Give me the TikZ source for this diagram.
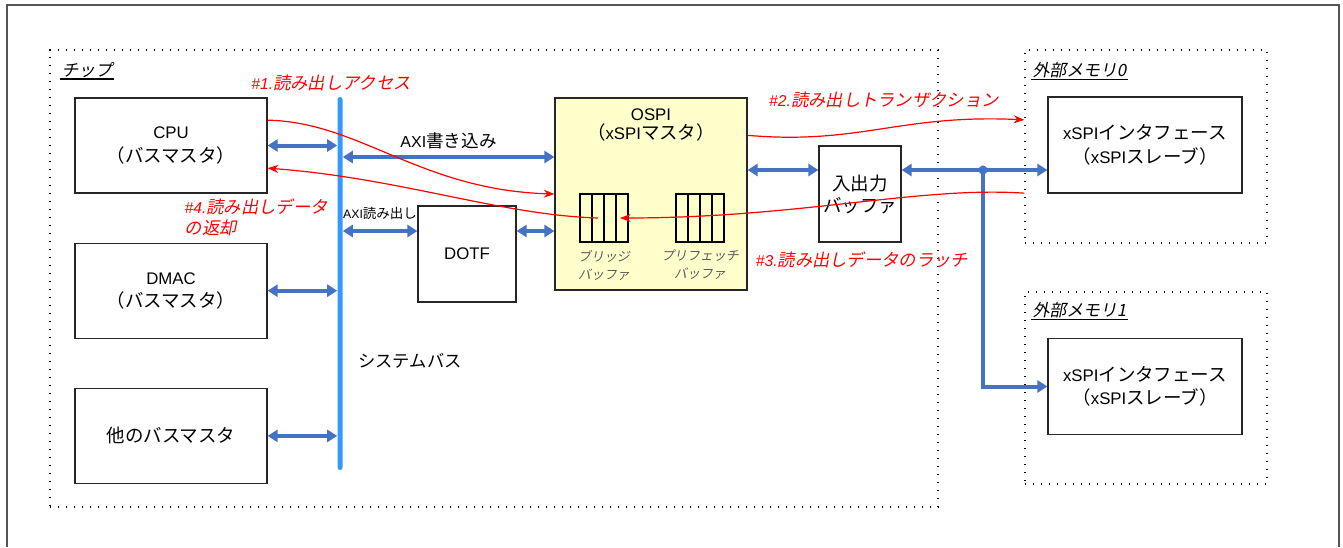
\documentclass[tikz,border=0pt]{standalone}
\usepackage{fontspec}
\setmainfont{Liberation Sans}
\newfontfamily\jp[Scale=1.1]{Noto Sans CJK JP}
\newfontfamily\jpsl[Scale=1.1,FakeSlant=0.2]{Noto Sans CJK JP}
\newcommand\jpitext[1]{{\upshape\jpsl #1}}
\usepackage{tikz}
\usetikzlibrary{arrows.meta, positioning}
\definecolor{busblue}{RGB}{51,153,255}
\definecolor{linkblue}{RGB}{68,114,196}
\definecolor{ospiyellow}{RGB}{255,255,204}
\definecolor{framegray}{RGB}{85,85,85}
\definecolor{bufgray}{RGB}{90,90,90}
\tikzstyle{block} = [rectangle, draw=black!85, line width=0.9pt, fill=white, align=center, inner sep=0pt, font=\fontsize{12.6}{17.5}\selectfont]
\tikzstyle{area} = [rectangle, draw=black, line width=1pt, dash pattern=on 1pt off 5pt, inner sep=0pt]
\tikzstyle{arealabel} = [anchor=west, inner sep=1pt, font=\fontsize{11.5}{13}\selectfont\itshape]
\tikzstyle{biarrow} = [draw=linkblue, line width=3pt, {Triangle[length=7.5pt,width=9pt]}-{Triangle[length=7.5pt,width=9pt]}]
\tikzstyle{uniarrow} = [draw=linkblue, line width=3pt, -{Triangle[length=7.5pt,width=9pt]}]
\tikzstyle{flow} = [draw=red, line width=0.9pt, -{Stealth[length=8pt,width=6pt]}]
\tikzstyle{flowlabel} = [text=red, align=left, font=\fontsize{11.8}{15.5}\selectfont\itshape]
\tikzstyle{buffer} = [rectangle, draw=black, line width=1pt, outer sep=0pt, minimum width=36pt, minimum height=36pt, inner sep=0pt]
\tikzstyle{buflabel} = [text=bufgray, align=center, font=\fontsize{8.8}{13.5}\selectfont\jpsl]

\begin{document}
\begin{tikzpicture}[x=0.75pt, y=-0.75pt]
    \useasboundingbox (0,0) rectangle (1343,547);
    \draw[framegray, line width=1.5pt] (7,547) -- (7,5) -- (1339,5) -- (1339,547);

    % Chip
    \node (chip) [area, minimum width=666pt, minimum height=342.75pt] at (494,278.5) {};
    \node (chiplbl) [arealabel] at (60,70) {\jpitext{チップ}};
    \draw[line width=1.2pt] (chiplbl.south west) -- (chiplbl.south east);

    % Bus masters
    \node (cpu) [block, minimum width=144pt, minimum height=71.25pt] at (171,145.5) {CPU\\{\jp （バスマスタ）}};
    \node (dmac) [block, minimum width=144pt, minimum height=71.25pt, below=36.75pt of cpu] {DMAC\\{\jp （バスマスタ）}};
    \node (othm) [block, minimum width=144pt, minimum height=71.25pt, below=36.75pt of dmac] {{\jp 他のバスマスタ}};

    % System bus
    \node (bus) [fill=busblue, rounded corners=1.8pt, minimum width=3.75pt, minimum height=279.75pt, inner sep=0pt] at (340,283.5) {};
    \node (buslbl) [font=\fontsize{11.8}{13}\selectfont\jp] at (410,361) {システムバス};

    % DOTF and OSPI
    \node (dotf) [block, minimum width=73.5pt, minimum height=72pt] at (467,254) {DOTF};
    \node (ospi) [block, fill=ospiyellow, minimum width=144pt, minimum height=144pt] at (651,194) {};
    \node (ospitxt) [below=5pt of ospi.north, align=center, font=\fontsize{12.6}{14.5}\selectfont] {OSPI\\{\jp （}xSPI{\jp マスタ）}};
    \node (brg) [buffer] at (604,218) {};
    \node (pref) [buffer] at (700,218) {};
    \foreach \b in {brg, pref}
        \foreach \i in {1,2,3}
            \draw[line width=1pt] ([xshift=\i*9pt]\b.north west) -- ([xshift=\i*9pt]\b.south west);
    \node (brglbl) [buflabel, below=2.5pt of brg] {ブリッジ\\バッファ};
    \node (preflbl) [buflabel, below=2.5pt of pref] {プリフェッチ\\バッファ};
    \node (iobuf) [block, minimum width=61.5pt, minimum height=72pt, font=\fontsize{12.6}{16.5}\selectfont\jp] at (860,194) {入出力\\バッファ};

    % External memories
    \node (mem0) [area, minimum width=181.5pt, minimum height=144.75pt] at (1146,146.5) {};
    \node (mem0lbl) [arealabel] at (1031,70) {\jpitext{外部メモリ0}};
    \draw[line width=1.2pt] (mem0lbl.south west) -- (mem0lbl.south east);
    \node (xspi0) [block, minimum width=145.5pt, minimum height=72pt] at (1145,145) {xSPI{\jp インタフェース}\\{\jp （}xSPI{\jp スレーブ）}};
    \node (mem1) [area, minimum width=181.5pt, minimum height=144pt] at (1146,388) {};
    \node (mem1lbl) [arealabel] at (1031,310) {\jpitext{外部メモリ1}};
    \draw[line width=1.2pt] (mem1lbl.south west) -- (mem1lbl.south east);
    \node (xspi1) [block, minimum width=145.5pt, minimum height=72pt] at (1145,386.5) {xSPI{\jp インタフェース}\\{\jp （}xSPI{\jp スレーブ）}};

    % Bus links
    \draw[biarrow] (cpu.east) -- (cpu.east -| bus.west);
    \draw[biarrow] (dmac.east) -- (dmac.east -| bus.west);
    \draw[biarrow] (othm.east) -- (othm.east -| bus.west);
    \coordinate (axiw) at ([yshift=27.75pt]ospi.west);
    \draw[biarrow] (axiw -| bus.east) -- node[above=1pt, font=\fontsize{12}{13}\selectfont] {AXI{\jp 書き込み}} (axiw);
    \coordinate (axir) at ([yshift=17.25pt]dotf.west);
    \draw[biarrow] (axir -| bus.east) -- node[above=4pt, font=\fontsize{9.2}{11}\selectfont] {AXI{\jp 読み出し}} (axir);
    \draw[biarrow] (axir -| dotf.east) -- (axir -| ospi.west);
    \coordinate (iol) at ([yshift=18pt]iobuf.west);
    \coordinate (ior) at ([yshift=18pt]iobuf.east);
    \draw[biarrow] (iol -| ospi.east) -- (iol);
    \draw[biarrow] (ior) -- (ior -| xspi0.west);
    \coordinate (jn) at (983,170);
    \fill[linkblue] (jn) circle (3.4pt);
    \draw[uniarrow] (jn) |- (xspi1.west);

    % Read flow
    \draw[flow] ([yshift=19pt]cpu.east) .. controls (360,122) and (420,190) .. (ospi.west);
    \draw[flow] ([yshift=44pt]ospi.east) .. controls (860,145) and (900,114) .. ([yshift=20pt]mem0.west);
    \draw[flow] ([yshift=-35pt]mem0.west) .. controls (920,186) and (800,218) .. ([xshift=-6pt]brg.east);
    \draw[flow] ([xshift=-4.5pt]brg.center) .. controls (500,215) and (400,178) .. ([yshift=-17pt]cpu.east);
    \node (rd1) [flowlabel] at (331,83) {\#1.\jpitext{読み出しアクセス}};
    \node (rd2) [flowlabel] at (884,100) {\#2.\jpitext{読み出しトランザクション}};
    \node (rd3) [flowlabel] at (862,260) {\#3.\jpitext{読み出しデータのラッチ}};
    \node (rd4) [flowlabel, anchor=west] at (180,217) {\#4.\jpitext{読み出しデータ}\\\jpitext{の返却}};
\end{tikzpicture}
\end{document}
